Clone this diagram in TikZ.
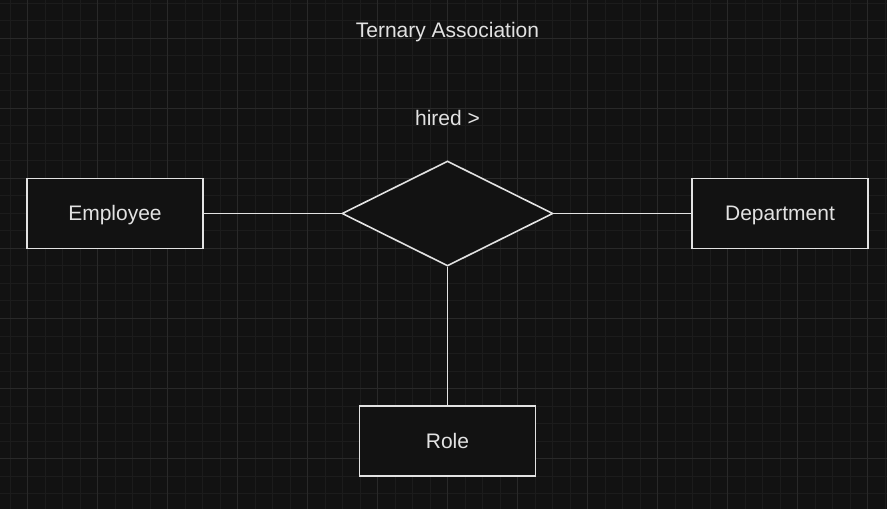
\documentclass[tikz,border=0pt]{standalone}
\usepackage{fontspec}
\setmainfont{Liberation Sans}
\usetikzlibrary{shapes.geometric}
\definecolor{bg}{HTML}{121212}
\definecolor{gridminor}{HTML}{1C1C1C}
\definecolor{gridmajor}{HTML}{292929}
\definecolor{fg}{HTML}{E2E2E2}
\begin{document}
\begin{tikzpicture}[x=1bp,y=-1bp,
  txt/.style={text=fg, font=\fontsize{21bp}{24bp}\selectfont, text height=15bp, text depth=0bp},
  entity/.style={txt, draw=fg, line width=1.6bp, fill=bg, minimum width=176bp, minimum height=70bp, inner sep=0pt},
  rel/.style={draw=fg, line width=1.6bp, fill=bg, diamond, minimum width=211bp, minimum height=105bp, inner sep=0pt},
  label/.style={txt, inner sep=0pt},
  conn/.style={draw=fg, line width=1.6bp}]
\fill[bg] (0,0) rectangle (887,509);
\useasboundingbox (0,0) rectangle (887,509);
% minor grid (skip positions of major lines)
\foreach \i in {0,...,51} {
  \pgfmathtruncatemacro{\r}{mod(\i-1,4)}
  \ifnum\r=0\relax\else
  \draw[gridminor, line width=1bp] ({10+17.5*\i},0) -- ({10+17.5*\i},509);
  \fi
}
\foreach \i in {0,...,29} {
  \pgfmathtruncatemacro{\r}{mod(\i+6,4)}
  \ifnum\r=0\relax\else
  \draw[gridminor, line width=1bp] (0,{3.5+17.5*\i}) -- (887,{3.5+17.5*\i});
  \fi
}
% major grid
\foreach \i in {0,...,12} {
  \draw[gridmajor, line width=1bp] ({27.5+70*\i},0) -- ({27.5+70*\i},509);
}
\foreach \i in {0,...,6} {
  \draw[gridmajor, line width=1bp] (0,{38.5+70*\i}) -- (887,{38.5+70*\i});
}
\node[label] (title) at (447.5,30) {Ternary Association};
\node[label] (rlabel) at (447.5,118) {hired >};
\node[entity] (emp) at (115,213.5) {Employee};
\node[entity] (dep) at (780,213.5) {Department};
\node[entity] (role) at (447.5,441) {Role};
\node[rel] (hired) at (447.5,213.5) {};
\draw[conn] (emp.east) -- (hired.west);
\draw[conn] (hired.east) -- (dep.west);
\draw[conn] (hired.south) -- (role.north);
\end{tikzpicture}
\end{document}
